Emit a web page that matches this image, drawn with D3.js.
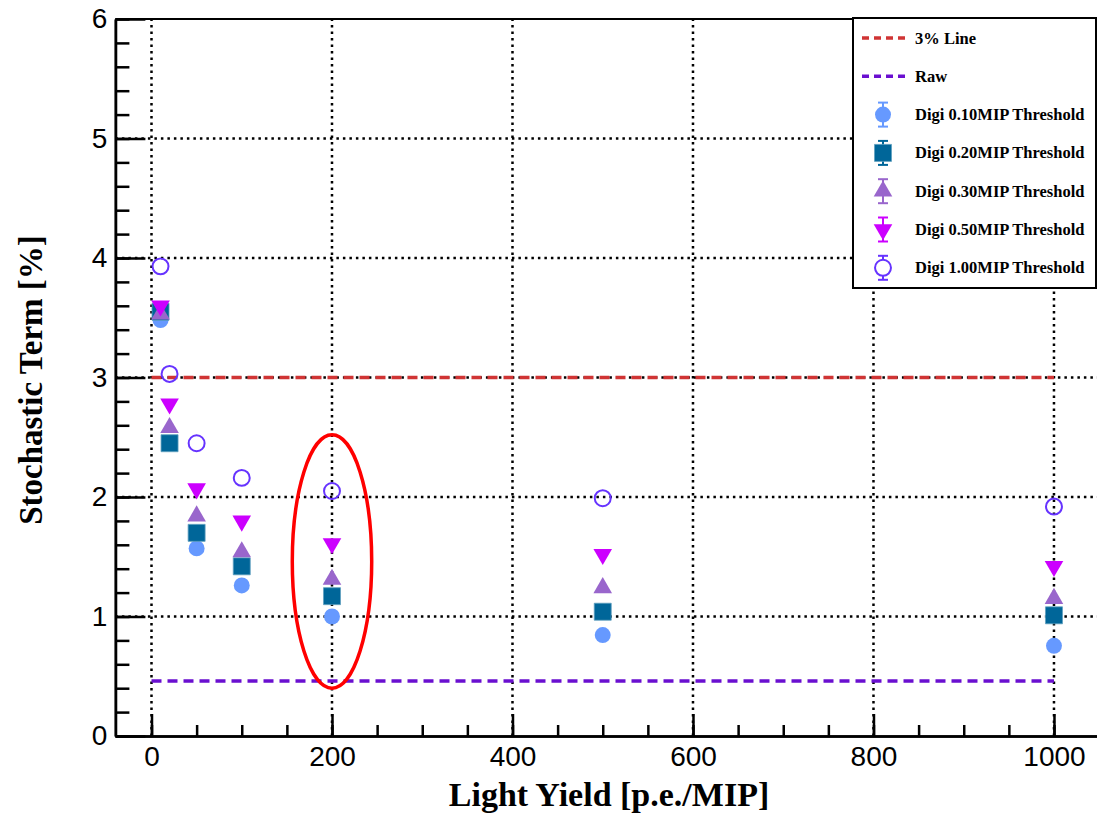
<!DOCTYPE html>
<html>
<head>
<meta charset="utf-8">
<script src="https://cdn.jsdelivr.net/npm/d3@7"></script>
<style>
  body { margin: 0; background: #fff; }
  svg { display: block; }
</style>
</head>
<body>
<div id="chart"></div>
<script>

var lightYield = [10, 20, 50, 100, 200, 500, 1000];

var digi010 = [3.48, 2.45, 1.57, 1.26, 1.00, 0.845, 0.755];
var digi020 = [3.55, 2.45, 1.70, 1.42, 1.17, 1.04, 1.01];
var digi030 = [3.53, 2.58, 1.84, 1.54, 1.31, 1.24, 1.15];
var digi050 = [3.60, 2.78, 2.07, 1.80, 1.61, 1.52, 1.42];
var digi100 = [3.93, 3.03, 2.45, 2.16, 2.05, 1.99, 1.92];

var lineThreePct = 3.0;
var lineRaw = 0.46;

var xTicks = [0, 200, 400, 600, 800, 1000];
var yTicks = [0, 1, 2, 3, 4, 5, 6];

var seriesNames = ["Digi 0.10MIP Threshold", "Digi 0.20MIP Threshold", "Digi 0.30MIP Threshold",
                   "Digi 0.50MIP Threshold", "Digi 1.00MIP Threshold"];

var width = 1097, height = 816;

var x = d3.scaleLinear().domain([-40, 1050]).range([115.4, 1099.1]);
var y = d3.scaleLinear().domain([0, 6]).range([736, 19]);

var svg = d3.select("#chart").append("svg")
    .attr("width", width)
    .attr("height", height);

// grid (dotted)
var grid = svg.append("g").attr("class", "grid");
grid.selectAll(".gx")
    .data(xTicks)
    .enter().append("line")
    .attr("x1", function(d) { return x(d); })
    .attr("x2", function(d) { return x(d); })
    .attr("y1", y(0)).attr("y2", y(6))
    .attr("stroke", "#000").attr("stroke-width", 2.5)
    .attr("stroke-dasharray", "2.5,4");
grid.selectAll(".gy")
    .data(yTicks.slice(1, 6))
    .enter().append("line")
    .attr("x1", x(-40)).attr("x2", width)
    .attr("y1", function(d) { return y(d); })
    .attr("y2", function(d) { return y(d); })
    .attr("stroke", "#000").attr("stroke-width", 2.5)
    .attr("stroke-dasharray", "2.5,4");

// reference lines
function hline(val, color) {
    svg.append("line")
        .attr("x1", x(0)).attr("x2", x(1000))
        .attr("y1", y(val)).attr("y2", y(val))
        .attr("stroke", color).attr("stroke-width", 3.5)
        .attr("stroke-dasharray", "10,6");
}
hline(lineThreePct, "#d03434");
hline(lineRaw, "#6a0fd0");

// frame
svg.append("line")
    .attr("x1", x(-40)).attr("x2", width)
    .attr("y1", y(6)).attr("y2", y(6))
    .attr("stroke", "#000").attr("stroke-width", 2);

// axes
var yMajor = d3.axisLeft(y).tickValues(yTicks).tickSizeInner(-30).tickSizeOuter(0).tickPadding(8)
    .tickFormat(d3.format("d"));
var yMinor = d3.axisLeft(y).tickValues(d3.range(0, 6.01, 0.2)).tickSizeInner(-14).tickSizeOuter(0)
    .tickFormat("");
var xMajor = d3.axisBottom(x).tickValues(xTicks).tickSizeInner(-22).tickSizeOuter(0).tickPadding(10)
    .tickFormat(d3.format("d"));
var xMinor = d3.axisBottom(x).tickValues(d3.range(0, 1050, 50)).tickSizeInner(-11).tickSizeOuter(0)
    .tickFormat("");

function styleAxis(g) {
    g.selectAll("path").attr("stroke", "#000").attr("stroke-width", 2.5);
    g.selectAll("line").attr("stroke", "#000").attr("stroke-width", 2.5);
    g.selectAll("text")
        .attr("fill", "#000")
        .style("font-family", "'Liberation Sans', Arial, sans-serif")
        .style("font-size", "28px");
}

svg.append("g").attr("transform", "translate(" + x(-40) + ",0)").call(yMinor).call(styleAxis);
svg.append("g").attr("transform", "translate(" + x(-40) + ",0)").call(yMajor).call(styleAxis);
svg.append("g").attr("transform", "translate(0," + y(0) + ")").call(xMinor).call(styleAxis);
svg.append("g").attr("transform", "translate(0," + y(0) + ")").call(xMajor).call(styleAxis);

// axis titles
svg.append("text")
    .attr("x", 609).attr("y", 806)
    .attr("text-anchor", "middle")
    .style("font-family", "'Liberation Serif', 'Times New Roman', serif")
    .style("font-weight", "bold")
    .style("font-size", "34px")
    .text("Light Yield [p.e./MIP]");

svg.append("text")
    .attr("transform", "translate(42,380) rotate(-90)")
    .attr("text-anchor", "middle")
    .style("font-family", "'Liberation Serif', 'Times New Roman', serif")
    .style("font-weight", "bold")
    .style("font-size", "33px")
    .text("Stochastic Term [%]");

// markers
var styles = [
    { values: digi010, shape: d3.symbolCircle, size: 200, fill: "#6699ff", stroke: "none" },
    { values: digi020, shape: d3.symbolSquare, size: 289, fill: "#006699", stroke: "#5fa0bf" },
    { values: digi030, shape: d3.symbolTriangle, size: 150, fill: "#9966cc", stroke: "none" },
    { values: digi050, shape: d3.symbolTriangle, size: 150, fill: "#cc00ff", stroke: "none", flip: true },
    { values: digi100, shape: d3.symbolCircle, size: 200, fill: "none", stroke: "#6633ff" }
];

styles.forEach(function(s) {
    svg.append("g").selectAll("path")
        .data(lightYield.map(function(d, i) { return [d, s.values[i]]; }))
        .enter().append("path")
        .attr("d", d3.symbol().type(s.shape).size(s.size))
        .attr("transform", function(d) {
            return "translate(" + x(d[0]) + "," + y(d[1]) + ")" + (s.flip ? " rotate(180)" : "");
        })
        .attr("fill", s.fill)
        .attr("stroke", s.stroke)
        .attr("stroke-width", s.fill === "none" ? 2 : 0.8);
});

// annotation ellipse
svg.append("ellipse")
    .attr("cx", x(200)).attr("cy", y(1.46))
    .attr("rx", x(44) - x(0)).attr("ry", y(0) - y(1.06))
    .attr("fill", "none").attr("stroke", "#ff0000").attr("stroke-width", 3.5);

// legend
var legend = svg.append("g").attr("transform", "translate(853,18)");
legend.append("rect")
    .attr("width", 243).attr("height", 270)
    .attr("fill", "#fff").attr("stroke", "#000").attr("stroke-width", 2);

var legendRows = [
    { label: "3% Line", line: "#d03434" },
    { label: "Raw", line: "#6a0fd0" }
].concat(seriesNames.map(function(n, i) { return { label: n, style: styles[i] }; }));

legendRows.forEach(function(r, i) {
    var cy = 20 + i * 38.3;
    var row = legend.append("g").attr("transform", "translate(0," + cy + ")");
    if (r.line) {
        row.append("line")
            .attr("x1", 9).attr("x2", 53)
            .attr("stroke", r.line).attr("stroke-width", 3.5)
            .attr("stroke-dasharray", "7,5");
    } else {
        var s = r.style;
        var ec = s.stroke !== "none" && s.fill === "none" ? s.stroke : s.fill;
        row.append("line").attr("x1", 30).attr("x2", 30).attr("y1", -12).attr("y2", 12)
            .attr("stroke", ec).attr("stroke-width", 2);
        row.append("line").attr("x1", 25).attr("x2", 35).attr("y1", -12).attr("y2", -12)
            .attr("stroke", ec).attr("stroke-width", 2);
        row.append("line").attr("x1", 25).attr("x2", 35).attr("y1", 12).attr("y2", 12)
            .attr("stroke", ec).attr("stroke-width", 2);
        row.append("path")
            .attr("d", d3.symbol().type(s.shape).size(s.size))
            .attr("transform", "translate(30,0)" + (s.flip ? " rotate(180)" : ""))
            .attr("fill", s.fill === "none" ? "#fff" : s.fill)
            .attr("stroke", s.stroke)
            .attr("stroke-width", s.fill === "none" ? 2 : 0.8);
    }
    row.append("text")
        .attr("x", 62).attr("y", 5.5)
        .style("font-family", "'Liberation Serif', 'Times New Roman', serif")
        .style("font-weight", "bold")
        .style("font-size", "16.5px")
        .text(r.label);
});

</script>
</body>
</html>
